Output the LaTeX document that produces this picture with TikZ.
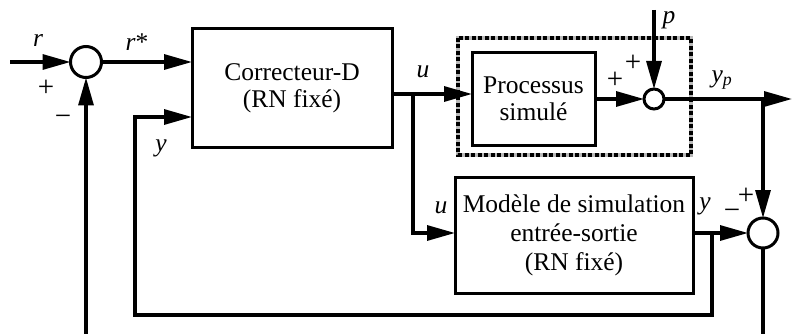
\documentclass[tikz,border=0pt]{standalone}
\usepackage{fontspec}
\setmainfont{Liberation Serif}
\usetikzlibrary{arrows.meta}
\begin{document}
\begin{tikzpicture}[x=1pt,y=-1pt,
  every node/.style={font=\fontsize{25.5}{27}\selectfont},
  ln/.style={line width=3.2pt},
  arr/.style={ln,-{Triangle[length=28pt,width=15pt]}},
  blk/.style={draw,line width=3pt,inner sep=0pt,outer sep=0pt,align=center},
  sumc/.style={draw,circle,line width=3pt,inner sep=0pt,outer sep=0pt},
  lab/.style={inner sep=0pt},
  sgn/.style={inner sep=0pt,font=\fontsize{29}{29}\selectfont}]
\useasboundingbox (0,0) rectangle (792,334);
% blocks
\node[sumc,minimum size=31pt] (s1) at (86,62) {};
\node[blk,minimum width=200pt,minimum height=118pt] (corr) at (292,88) {Correcteur-D\\(RN fixé)};
\draw[line width=3.4pt,gray!55] (458,38) rectangle (691,155);
\draw[line width=3.4pt,dash pattern=on 4pt off 2.5pt] (458,38) rectangle (691,155);
\node[blk,minimum width=123pt,minimum height=92pt] (proc) at (533.5,99) {Processus\\simulé};
\node[sumc,minimum size=20pt] (s2) at (654,99) {};
\node[blk,minimum width=238pt,minimum height=116pt,font=\fontsize{25.5}{29}\selectfont] (mod) at (574,235) {Modèle de simulation\\entrée-sortie\\(RN fixé)};
\node[sumc,minimum size=30pt] (s3) at (763,233) {};
% coordinates
\coordinate (in) at (10,62);
\coordinate (fb1) at (86,334);
\coordinate (bu) at (413,94);
\coordinate (by) at (712,233);
\coordinate (pin) at (654,10);
\coordinate (out) at (792,99);
\coordinate (byp) at (763,99);
\coordinate (e3) at (763,334);
% connectors
\draw[arr] (in) -- (s1.west);
\draw[arr] (fb1) -- (s1.south);
\draw[arr] (s1.east) -- (s1.east -| corr.west);
\draw[arr] (by) -- (712,315) -- (135,315) -- (135,117) -- (135,117 -| corr.west);
\draw[arr] (corr.east |- bu) -- (bu -| proc.west);
\draw[arr] (bu) -- (413,233) -- (413,233 -| mod.west);
\draw[arr] (proc.east |- s2) -- (s2.west);
\draw[arr] (pin) -- (s2.north);
\draw[arr] (s2.east) -- (out);
\draw[arr] (byp) -- (s3.north);
\draw[arr] (mod.east |- s3) -- (s3.west);
\draw[ln] (s3.south) -- (e3);
% labels
\node[lab] (lr) at (38,40) {\textit{r}};
\node[sgn] (lp1) at (46,88) {+};
\node[sgn] (lm1) at (63,120) {−};
\node[lab] (lrs) at (137,42) {\textit{r}*};
\node[lab] (lu1) at (423,72) {\textit{u}};
\node[lab] (ly1) at (161,148) {\textit{y}};
\node[lab] (lu2) at (441,208) {\textit{u}};
\node[lab] (ly2) at (705,206) {\textit{y}};
\node[sgn] (lm2) at (732,214) {−};
\node[sgn] (lp4) at (746,196) {+};
\node[sgn] (lp2) at (615,80) {+};
\node[sgn] (lp3) at (633,63) {+};
\node[lab] (lpp) at (669,20) {\textit{p}};
\node[lab] (lyp) at (722,80) {\textit{y}\textsubscript{\textit{p}}};
\end{tikzpicture}
\end{document}
